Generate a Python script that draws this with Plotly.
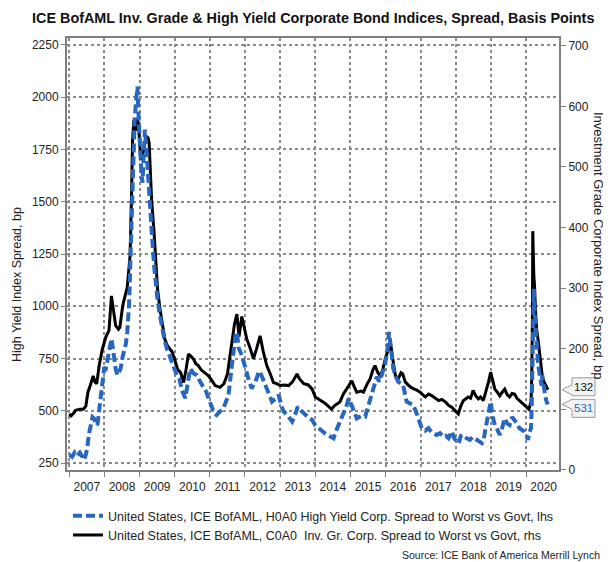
import plotly.graph_objects as go
import pandas as pd

# ---------------- data (decimal years, basis points) ----------------
hy_t = [2007.00, 2007.08, 2007.15, 2007.22, 2007.30, 2007.42, 2007.47, 2007.51, 2007.56, 2007.61,
        2007.66, 2007.70, 2007.75, 2007.80, 2007.85, 2007.89, 2007.94, 2007.99, 2008.04, 2008.08,
        2008.14, 2008.20, 2008.24, 2008.27, 2008.32, 2008.37, 2008.42, 2008.46, 2008.52, 2008.56,
        2008.61, 2008.65, 2008.70, 2008.73, 2008.77, 2008.80, 2008.83, 2008.86, 2008.90, 2008.94,
        2008.96, 2009.01, 2009.05, 2009.08, 2009.12, 2009.15, 2009.19, 2009.22, 2009.26, 2009.30,
        2009.37, 2009.42, 2009.46, 2009.51, 2009.56, 2009.63, 2009.70, 2009.77, 2009.84, 2009.91,
        2009.98, 2010.06, 2010.13, 2010.20, 2010.30, 2010.37, 2010.44, 2010.53, 2010.63, 2010.72,
        2010.82, 2010.90, 2010.96, 2011.05, 2011.12, 2011.19, 2011.29, 2011.38, 2011.45, 2011.53,
        2011.60, 2011.65, 2011.73, 2011.77, 2011.82, 2011.91, 2011.98, 2012.05, 2012.12, 2012.19,
        2012.30, 2012.40, 2012.47, 2012.58, 2012.67, 2012.77, 2012.88, 2012.96, 2013.04, 2013.10,
        2013.20, 2013.34, 2013.42, 2013.50, 2013.57, 2013.65, 2013.72, 2013.82, 2013.91, 2014.00,
        2014.10, 2014.20, 2014.29, 2014.40, 2014.52, 2014.58, 2014.66, 2014.74, 2014.80, 2014.88,
        2014.95, 2015.04, 2015.10, 2015.18, 2015.30, 2015.42, 2015.50, 2015.61, 2015.70, 2015.75,
        2015.82, 2015.89, 2015.99, 2016.06, 2016.10, 2016.15, 2016.22, 2016.30, 2016.36, 2016.50,
        2016.60, 2016.70, 2016.79, 2016.88, 2016.93, 2017.03, 2017.13, 2017.22, 2017.30, 2017.36,
        2017.45, 2017.55, 2017.65, 2017.72, 2017.79, 2017.88, 2017.95, 2018.02, 2018.08, 2018.14,
        2018.21, 2018.30, 2018.40, 2018.48, 2018.55, 2018.65, 2018.74, 2018.79, 2018.83, 2018.88,
        2018.93, 2018.99, 2019.05, 2019.11, 2019.18, 2019.25, 2019.32, 2019.39, 2019.46, 2019.53,
        2019.60, 2019.67, 2019.74, 2019.81, 2019.88, 2019.95, 2020.02, 2020.05, 2020.10, 2020.14,
        2020.16, 2020.18, 2020.20, 2020.22, 2020.24, 2020.26, 2020.29, 2020.33, 2020.36, 2020.40,
        2020.44, 2020.46, 2020.50, 2020.54, 2020.58, 2020.62]
hy_v = [290, 280, 300, 285, 300, 266, 290, 321, 390, 425,
        470, 464, 440, 432, 510, 575, 620, 702, 700, 734,
        780, 845, 800, 750, 700, 670, 690, 702, 760, 782,
        820, 877, 1000, 1163, 1400, 1560, 1750, 1893, 1980, 2051,
        1950, 1750, 1640, 1591, 1700, 1845, 1760, 1670, 1560, 1480,
        1290, 1180, 1099, 1030, 972, 900, 845, 800, 766, 730,
        702, 670, 655, 600, 560, 640, 702, 680, 670, 640,
        610, 590, 560, 512, 490, 480, 498, 512, 540, 575,
        680, 760, 860, 877, 800, 766, 720, 687, 640, 607,
        640, 690, 670, 623, 590, 544, 560, 575, 520, 496,
        480, 449, 480, 520, 505, 490, 480, 465, 456, 430,
        417, 400, 390, 380, 369, 400, 432, 455, 480, 520,
        560, 528, 500, 464, 475, 472, 520, 575, 640, 663,
        640, 670, 726, 800, 877, 800, 702, 660, 639, 623,
        544, 535, 528, 490, 464, 417, 405, 417, 400, 393,
        385, 393, 375, 380, 369, 401, 370, 353, 345, 380,
        385, 370, 361, 375, 369, 355, 345, 360, 401, 450,
        480, 544, 470, 432, 410, 385, 420, 464, 440, 432,
        470, 456, 440, 417, 410, 401, 380, 361, 400, 417,
        520, 766, 950, 1083, 980, 925, 798, 750, 700, 639,
        620, 670, 610, 575, 545, 531]

ig_t = [2007.00, 2007.05, 2007.12, 2007.18, 2007.30, 2007.40, 2007.47, 2007.53, 2007.60, 2007.68,
        2007.73, 2007.78, 2007.85, 2007.94, 2008.04, 2008.13, 2008.20, 2008.24, 2008.32, 2008.40,
        2008.44, 2008.50, 2008.54, 2008.65, 2008.73, 2008.77, 2008.80, 2008.84, 2008.88, 2008.94,
        2008.98, 2009.03, 2009.10, 2009.18, 2009.24, 2009.27, 2009.34, 2009.41, 2009.46, 2009.51,
        2009.58, 2009.65, 2009.72, 2009.79, 2009.86, 2009.93, 2010.01, 2010.08, 2010.17, 2010.25,
        2010.32, 2010.39, 2010.45, 2010.53, 2010.60, 2010.67, 2010.75, 2010.85, 2010.96, 2011.05,
        2011.15, 2011.29, 2011.40, 2011.50, 2011.58, 2011.63, 2011.70, 2011.77, 2011.83, 2011.91,
        2011.98, 2012.05, 2012.15, 2012.24, 2012.33, 2012.43, 2012.52, 2012.62, 2012.72, 2012.81,
        2012.90, 2013.00, 2013.12, 2013.24, 2013.35, 2013.48, 2013.55, 2013.67, 2013.80, 2013.91,
        2014.00, 2014.10, 2014.22, 2014.29, 2014.38, 2014.46, 2014.55, 2014.70, 2014.80, 2014.89,
        2014.97, 2015.04, 2015.10, 2015.18, 2015.30, 2015.37, 2015.48, 2015.56, 2015.64, 2015.70,
        2015.78, 2015.85, 2015.92, 2015.99, 2016.06, 2016.14, 2016.20, 2016.28, 2016.36, 2016.44,
        2016.49, 2016.56, 2016.66, 2016.75, 2016.90, 2017.00, 2017.13, 2017.22, 2017.32, 2017.42,
        2017.51, 2017.60, 2017.70, 2017.80, 2017.89, 2017.97, 2018.07, 2018.14, 2018.21, 2018.35,
        2018.42, 2018.49, 2018.57, 2018.64, 2018.70, 2018.78, 2018.84, 2018.87, 2018.93, 2018.99,
        2019.05, 2019.11, 2019.18, 2019.25, 2019.32, 2019.39, 2019.46, 2019.53, 2019.60, 2019.67,
        2019.74, 2019.81, 2019.88, 2019.95, 2020.02, 2020.08, 2020.14, 2020.16, 2020.18, 2020.19,
        2020.22, 2020.24, 2020.27, 2020.30, 2020.34, 2020.37, 2020.42, 2020.46, 2020.51, 2020.56,
        2020.62]
ig_v = [92, 89, 93, 98, 100, 100, 105, 128, 140, 155,
        145, 142, 172, 199, 219, 230, 287, 270, 238, 232,
        235, 262, 276, 301, 354, 450, 545, 578, 560, 581,
        560, 512, 524, 551, 548, 540, 446, 392, 340, 298,
        265, 238, 215, 205, 200, 194, 180, 166, 160, 144,
        165, 191, 188, 183, 175, 172, 165, 160, 155, 148,
        139, 136, 142, 158, 190, 210, 240, 257, 220, 253,
        235, 216, 200, 183, 200, 221, 195, 172, 158, 144,
        142, 139, 140, 139, 145, 158, 150, 142, 140, 133,
        120, 117, 112, 109, 105, 100, 106, 112, 125, 133,
        140, 147, 138, 128, 130, 128, 142, 150, 165, 172,
        160, 155, 165, 183, 195, 210, 185, 155, 150, 160,
        158, 145, 139, 135, 131, 127, 120, 125, 122, 118,
        114, 116, 112, 106, 103, 98, 92, 105, 114, 120,
        118, 131, 122, 117, 120, 114, 125, 133, 145, 161,
        145, 133, 128, 122, 128, 133, 124, 120, 126, 125,
        118, 114, 110, 106, 103, 100, 112, 150, 250, 394,
        320, 304, 260, 232, 215, 199, 175, 155, 145, 139,
        132]

year_ticks_start = "2007-01-01"
ig_tick_vals = [0, 100, 200, 300, 400, 500, 600, 700]
ig_tick_text = ["0", "", "200", "300", "400", "500", "600", "700"]   # 100 sits under the callouts
hy_name = "United States, ICE BofAML, H0A0 High Yield Corp. Spread to Worst vs Govt, lhs"
ig_name = "United States, ICE BofAML, C0A0\u00a0 Inv. Gr. Corp. Spread to Worst vs Govt, rhs"
title_text = "ICE BofAML Inv. Grade & High Yield Corporate Bond Indices, Spread, Basis Points"
source_text = "Source: ICE Bank of America Merrill Lynch"
hy_title = "High Yield Index Spread, bp"
ig_title = "Investment Grade Corporate Index Spread, bp"


def to_dates(ts):
    out = []
    for t in ts:
        y = int(t)
        out.append(pd.Timestamp(year=y, month=1, day=1) + pd.Timedelta(days=(t - y) * 365.25))
    return out


BLUE = "#2767c0"
GRID = "#8a8a8a"
FRAME = "#7f7f7f"
FONT = "Liberation Sans, Arial, sans-serif"

fig = go.Figure()
# IG on main y (right side) so that HY (overlay axis) is drawn on top
fig.add_trace(go.Scatter(x=to_dates(ig_t), y=ig_v, name=ig_name, mode="lines",
                         line=dict(color="#000000", width=3), yaxis="y"))
fig.add_trace(go.Scatter(x=to_dates(hy_t), y=hy_v, name=hy_name, mode="lines",
                         line=dict(color=BLUE, width=4, dash="9px,4px"), yaxis="y2"))

# the page body adds an 8px margin, so the figure is 8px smaller than the window
fig.update_layout(
    width=603, height=554,
    margin=dict(l=59, r=52, t=30, b=90),
    paper_bgcolor="white", plot_bgcolor="white",
    font=dict(family=FONT, size=12, color="#222"),
    showlegend=True,
    legend=dict(x=0.002, y=-0.072, xanchor="left", yanchor="top", traceorder="reversed",
                font=dict(size=12.5, color="#222"), bgcolor="rgba(0,0,0,0)",
                tracegroupgap=0, itemwidth=30),
    xaxis=dict(type="date", range=["2006-12-08", "2020-12-08"],
               tick0=year_ticks_start, dtick="M12", ticklabelmode="period", tickformat="%Y",
               ticks="outside", ticklen=5, tickcolor=FRAME, tickwidth=1,
               showgrid=True, gridcolor=GRID, griddash="dot", gridwidth=1.5,
               showline=True, linecolor=FRAME, linewidth=2, mirror=True,
               tickfont=dict(size=12, color="#222")),
    yaxis=dict(side="right", range=[-0.5, 713], tickmode="array",
               tickvals=ig_tick_vals, ticktext=ig_tick_text,
               ticks="outside", ticklen=5, tickcolor=FRAME,
               showgrid=False, zeroline=False,
               showline=True, linecolor=FRAME, linewidth=2, mirror=True,
               tickfont=dict(size=12, color="#222")),
    yaxis2=dict(side="left", overlaying="y", range=[217, 2283], tick0=250, dtick=250,
                ticks="outside", ticklen=5, tickcolor=FRAME,
                showgrid=True, gridcolor=GRID, griddash="dot", gridwidth=1.5, zeroline=False,
                showline=False,
                tickfont=dict(size=12, color="#222")),
)

annotations = [
    dict(text="<b>" + title_text + "</b>", xref="paper", yref="paper", x=0.5, y=1.0,
         yshift=20, xanchor="center", yanchor="middle", showarrow=False,
         font=dict(size=14.4, color="#111")),
    dict(text=hy_title, xref="paper", yref="paper", x=-0.102, y=0.43, textangle=-90,
         xanchor="center", yanchor="middle", showarrow=False, font=dict(size=12.5, color="#222")),
    dict(text=ig_title, xref="paper", yref="paper", x=1.08, y=0.52, textangle=90,
         xanchor="center", yanchor="middle", showarrow=False, font=dict(size=13, color="#222")),
    dict(text=source_text, xref="paper", yref="paper", x=1.088, y=-0.197,
         xanchor="right", yanchor="middle", showarrow=False, font=dict(size=10.5, color="#222")),
]

# end-value callouts (value taken from the last data point of each series)
shapes = []
for val, yref, color, c in [(ig_v[-1], "y", "#111", 3), (hy_v[-1], "y2", BLUE, -4)]:
    path = (f"M3,0 L13,-5 L13,{c - 9} L36,{c - 9} L36,{c + 9} L13,{c + 9} L13,5 Z")
    shapes.append(dict(type="path", xref="paper", xsizemode="pixel", xanchor=1,
                       yref=yref, ysizemode="pixel", yanchor=val, path=path,
                       fillcolor="#f2f2f2", line=dict(color="#9a9a9a", width=1), layer="above"))
    annotations.append(dict(text=str(val), xref="paper", x=1, xshift=24.5, yref=yref, y=val,
                            yshift=c, xanchor="center", yanchor="middle", showarrow=False,
                            font=dict(size=11.5, color=color)))

fig.update_layout(annotations=annotations, shapes=shapes)
fig.write_html("out.html")
